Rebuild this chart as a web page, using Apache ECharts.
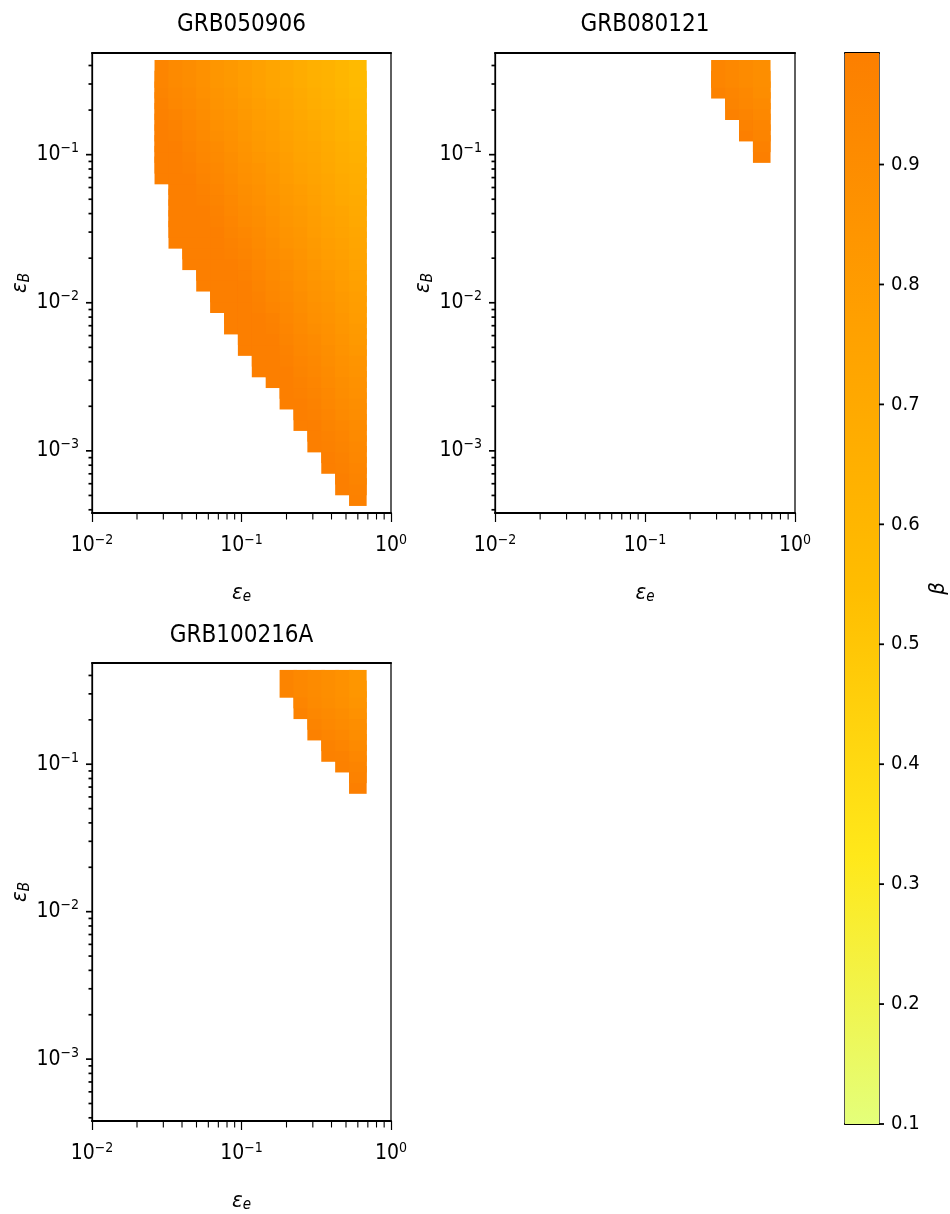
<!DOCTYPE html>
<html><head><meta charset="utf-8">
<script src="https://cdn.jsdelivr.net/npm/echarts@6/dist/echarts.min.js"></script>
<style>html,body{margin:0;padding:0;background:#fff}#c{width:950px;height:1214px}</style>
</head><body><div id="c"></div>
<script>
// ---------------- data ----------------
const epsE = [0.0300, 0.0372, 0.0460, 0.0570, 0.0706, 0.0875, 0.1083, 0.1342, 0.1662, 0.2059, 0.2550, 0.3158, 0.3912, 0.4845, 0.6001];
const epsB = [5.27e-4, 6.22e-4, 7.35e-4, 8.69e-4, 1.026e-3, 1.212e-3, 1.432e-3, 1.692e-3, 1.999e-3, 2.362e-3,
              2.790e-3, 3.296e-3, 3.895e-3, 4.601e-3, 5.436e-3, 6.422e-3, 7.586e-3, 8.962e-3, 1.0588e-2, 1.2509e-2,
              1.4778e-2, 1.7458e-2, 2.0625e-2, 2.4366e-2, 2.8786e-2, 3.4007e-2, 4.0179e-2, 4.7465e-2, 5.6076e-2, 6.6250e-2,
              7.8270e-2, 9.2470e-2, 0.10924, 0.12906, 0.15247, 0.18013, 0.21281, 0.25142, 0.29703, 0.35091];
const titles = ['GRB050906', 'GRB080121', 'GRB100216A'];

// GRB050906: one list per eps_e column (from column firstCol), beta listed upward from row firstRow[c]
const firstCol050906 = 0;
const firstRow050906 = [30, 24, 22, 20, 18, 16, 14, 12, 11, 9, 7, 5, 3, 1, 0];
const beta050906 = [
  [0.99,0.99,0.99,0.99,0.99,0.99,0.98,0.97,0.96,0.95],
  [0.99,0.99,0.99,0.99,0.99,0.99,0.99,0.99,0.99,0.99,0.98,0.97,0.96,0.94,0.93,0.92],
  [0.99,0.99,0.99,0.99,0.99,0.99,0.99,0.99,0.99,0.98,0.97,0.96,0.95,0.94,0.93,0.92,0.91,0.90],
  [0.99,0.99,0.99,0.99,0.99,0.99,0.99,0.99,0.98,0.97,0.96,0.95,0.94,0.93,0.92,0.91,0.90,0.89,0.88,0.87],
  [0.99,0.99,0.99,0.99,0.99,0.99,0.99,0.99,0.98,0.97,0.96,0.95,0.94,0.93,0.92,0.91,0.89,0.88,0.87,0.86,0.85,0.84],
  [0.99,0.99,0.99,0.99,0.99,0.99,0.99,0.98,0.97,0.96,0.95,0.94,0.93,0.92,0.91,0.90,0.89,0.88,0.87,0.86,0.85,0.84,0.83,0.82],
  [0.99,0.99,0.99,0.99,0.99,0.99,0.99,0.98,0.97,0.96,0.95,0.94,0.92,0.91,0.90,0.89,0.88,0.87,0.86,0.85,0.84,0.83,0.82,0.81,0.80,0.79],
  [0.99,0.99,0.99,0.99,0.99,0.99,0.98,0.97,0.96,0.95,0.94,0.93,0.92,0.91,0.90,0.89,0.88,0.87,0.86,0.85,0.83,0.82,0.81,0.80,0.79,0.78,0.77,0.76],
  [0.99,0.99,0.99,0.99,0.99,0.98,0.97,0.95,0.94,0.93,0.92,0.91,0.90,0.89,0.88,0.87,0.86,0.85,0.84,0.83,0.82,0.81,0.80,0.79,0.78,0.77,0.76,0.74,0.73],
  [0.99,0.99,0.99,0.99,0.98,0.97,0.96,0.95,0.94,0.93,0.92,0.91,0.90,0.89,0.88,0.86,0.85,0.84,0.83,0.82,0.81,0.80,0.79,0.78,0.77,0.76,0.75,0.74,0.73,0.72,0.71],
  [0.99,0.99,0.99,0.98,0.97,0.96,0.95,0.94,0.93,0.92,0.91,0.90,0.89,0.88,0.87,0.86,0.85,0.84,0.83,0.82,0.81,0.80,0.79,0.77,0.76,0.75,0.74,0.73,0.72,0.71,0.70,0.69,0.68],
  [0.99,0.99,0.99,0.98,0.97,0.96,0.95,0.94,0.93,0.92,0.91,0.89,0.88,0.87,0.86,0.85,0.84,0.83,0.82,0.81,0.80,0.79,0.78,0.77,0.76,0.75,0.74,0.73,0.72,0.71,0.70,0.68,0.67,0.66,0.65],
  [0.99,0.99,0.98,0.97,0.96,0.95,0.94,0.93,0.92,0.91,0.90,0.89,0.88,0.87,0.86,0.85,0.84,0.83,0.82,0.80,0.79,0.78,0.77,0.76,0.75,0.74,0.73,0.72,0.71,0.70,0.69,0.68,0.67,0.66,0.65,0.64,0.63],
  [0.99,0.99,0.98,0.97,0.96,0.95,0.94,0.92,0.91,0.90,0.89,0.88,0.87,0.86,0.85,0.84,0.83,0.82,0.81,0.80,0.79,0.78,0.77,0.76,0.75,0.74,0.73,0.71,0.70,0.69,0.68,0.67,0.66,0.65,0.64,0.63,0.62,0.61,0.60],
  [0.98,0.97,0.96,0.95,0.94,0.93,0.92,0.91,0.90,0.89,0.88,0.87,0.86,0.85,0.83,0.82,0.81,0.80,0.79,0.78,0.77,0.76,0.75,0.74,0.73,0.72,0.71,0.70,0.69,0.68,0.67,0.66,0.65,0.64,0.62,0.61,0.60,0.59,0.58,0.57]
];

const firstCol080121 = 11;
const firstRow080121 = [38, 36, 34, 32];
const beta080121 = [
  [0.97,0.95],
  [0.98,0.96,0.95,0.93],
  [0.99,0.97,0.96,0.94,0.93,0.91],
  [0.99,0.98,0.96,0.95,0.93,0.92,0.90,0.89]
];

const firstCol100216A = 9;
const firstRow100216A = [39, 37, 35, 33, 32, 30];
const beta100216A = [
  [0.96],
  [0.97,0.95,0.93],
  [0.98,0.96,0.94,0.92,0.91],
  [0.98,0.97,0.95,0.93,0.92,0.90,0.89],
  [0.98,0.97,0.95,0.93,0.91,0.90,0.88,0.87],
  [0.99,0.97,0.96,0.94,0.92,0.90,0.89,0.87,0.85,0.84]
];

// axes / ticks
const X_MIN = 0.01, X_MAX = 1;
const Y_MIN = 3.805e-4, Y_MAX = 0.4858;
const CB_MIN = 0.1, CB_MAX = 0.993;
const xMinorTicks = [0.02,0.03,0.04,0.05,0.06,0.07,0.08,0.09,0.2,0.3,0.4,0.5,0.6,0.7,0.8,0.9];
const yMajorTicks = [0.001, 0.01, 0.1];
const yMinorTicks = [4e-4,5e-4,6e-4,7e-4,8e-4,9e-4,2e-3,3e-3,4e-3,5e-3,6e-3,7e-3,8e-3,9e-3,
                     0.02,0.03,0.04,0.05,0.06,0.07,0.08,0.09,0.2,0.3,0.4];
const cbTicks = [0.1,0.2,0.3,0.4,0.5,0.6,0.7,0.8,0.9];
const wistia = ['#e4ff7a', '#ffe81a', '#ffbd00', '#ffa000', '#fc7f00'];

// ---------------- build ----------------
const FONT = "'DejaVu Sans Condensed', 'Liberation Sans Narrow', 'DejaVu Sans', sans-serif";
const CELL_W = 17.6, CELL_H = 27.8;

function cells(firstCol, firstRow, beta) {
  const out = [];
  beta.forEach((col, c) => col.forEach((b, j) => {
    const yb = epsB[firstRow[c] + j];
    if (yb !== undefined) out.push([epsE[firstCol + c], yb, b]);
  }));
  return out;
}
const panelData = [
  cells(firstCol050906, firstRow050906, beta050906),
  cells(firstCol080121, firstRow080121, beta080121),
  cells(firstCol100216A, firstRow100216A, beta100216A)
];

const tickData = [].concat(
  xMinorTicks.map(v => [v, Y_MIN, 0]),
  yMajorTicks.map(v => [X_MIN, v, 1]),
  yMinorTicks.map(v => [X_MIN, v, 2])
);

function powLabel(v) {
  const e = Math.log10(v), r = Math.round(e);
  if (Math.abs(e - r) > 1e-6) return '';
  return '{b|10}{s|' + (r < 0 ? '\u2212' + (-r) : r) + '}';
}
const supRich = {
  b: {fontFamily: FONT, fontSize: 21, lineHeight: 26, color: '#000'},
  s: {fontFamily: FONT, fontSize: 14, verticalAlign: 'top', color: '#000'}
};
const subRich = {
  e: {fontFamily: FONT, fontStyle: 'italic', fontSize: 22, lineHeight: 24, color: '#000'},
  s: {fontFamily: FONT, fontStyle: 'italic', fontSize: 15, verticalAlign: 'bottom', color: '#000'}
};

const grids = [
  {left: 92, top: 53, width: 299, height: 460},
  {left: 495, top: 53, width: 300, height: 460},
  {left: 92, top: 663, width: 299, height: 460}
].map(g => Object.assign(g, {show: true, borderColor: '#000', borderWidth: 1.25, backgroundColor: 'transparent'}));
grids.push({left: 845, top: 53, width: 34, height: 1071, show: true, borderColor: '#000', borderWidth: 1.25});

const xAxes = [], yAxes = [];
for (let i = 0; i < 3; i++) {
  xAxes.push({
    type: 'log', logBase: 10, gridIndex: i, min: X_MIN, max: X_MAX,
    axisLine: {show: true, lineStyle: {color: '#000', width: 2}},
    axisTick: {show: true, length: 9, lineStyle: {color: '#000', width: 1.2}},
    splitLine: {show: false},
    axisLabel: {margin: 20, formatter: powLabel, rich: supRich},
    name: '{e|ε}{s|e}', nameLocation: 'middle', nameGap: 68, nameTextStyle: {rich: subRich}
  });
  yAxes.push({
    type: 'log', logBase: 10, gridIndex: i, min: Y_MIN, max: Y_MAX,
    axisLine: {show: true, lineStyle: {color: '#000', width: 1.25}},
    axisTick: {show: false},
    splitLine: {show: false},
    axisLabel: {margin: 13, formatter: powLabel, rich: supRich},
    name: '{e|ε}{s|B}', nameLocation: 'middle', nameGap: 51, nameTextStyle: {rich: subRich}
  });
}
// colorbar axes
xAxes.push({type: 'value', gridIndex: 3, min: 0, max: 1, axisLine: {show: true, lineStyle: {color: '#000', width: 2}},
  axisTick: {show: false}, axisLabel: {show: false}, splitLine: {show: false}});
yAxes.push({type: 'value', gridIndex: 3, position: 'right', min: CB_MIN, max: CB_MAX, interval: 0.1,
  axisLine: {show: true, lineStyle: {color: '#000', width: 1.25}},
  axisTick: {show: false}, splitLine: {show: false},
  axisLabel: {margin: 12, fontFamily: FONT, fontSize: 20, color: '#000',
    formatter: v => (v > CB_MAX - 0.05 ? '' : v.toFixed(1)), showMaxLabel: false},
  name: 'β', nameLocation: 'middle', nameGap: 48, nameRotate: 90,
  nameTextStyle: {fontFamily: FONT, fontStyle: 'italic', fontSize: 22, color: '#000'}});
// top spines
for (let i = 0; i < 4; i++) {
  xAxes.push({type: i < 3 ? 'log' : 'value', gridIndex: i, position: 'top',
    min: i < 3 ? X_MIN : 0, max: i < 3 ? X_MAX : 1,
    axisLine: {show: true, lineStyle: {color: '#000', width: 2}},
    axisTick: {show: false}, axisLabel: {show: false}, splitLine: {show: false}});
}

function renderCell(params, api) {
  const p = api.coord([api.value(0), api.value(1)]);
  return {type: 'rect', shape: {x: p[0] - CELL_W / 2, y: p[1] - CELL_H / 2, width: CELL_W, height: CELL_H},
          style: {fill: api.visual('color')}};
}
function renderTick(params, api) {
  const p = api.coord([api.value(0), api.value(1)]);
  const k = api.value(2);
  const shape = k === 0 ? {x1: p[0], y1: p[1], x2: p[0], y2: p[1] + 6.5}
                        : {x1: p[0], y1: p[1], x2: p[0] - (k === 1 ? 6 : 3.5), y2: p[1]};
  return {type: 'line', shape: shape, style: {stroke: '#000', lineWidth: k === 0 ? 1.1 : 1.7}};
}
function renderCbTick(params, api) {
  const p = api.coord([api.value(0), api.value(1)]);
  return {type: 'line', shape: {x1: p[0], y1: p[1], x2: p[0] + 5, y2: p[1]}, style: {stroke: '#000', lineWidth: 1.8}};
}
function renderColorbar(params, api) {
  const a = api.coord([api.value(0), api.value(1)]);
  const b = api.coord([api.value(2), api.value(3)]);
  return {type: 'rect', shape: {x: a[0], y: b[1], width: b[0] - a[0], height: a[1] - b[1]},
    style: {fill: new echarts.graphic.LinearGradient(0, 1, 0, 0,
      wistia.map((c, i) => ({offset: i / (wistia.length - 1), color: c})))}};
}

const series = [];
for (let i = 0; i < 3; i++) {
  series.push({type: 'custom', name: titles[i], xAxisIndex: i, yAxisIndex: i, renderItem: renderCell,
    data: panelData[i], clip: false, z: 2});
}
for (let i = 0; i < 3; i++) {
  series.push({type: 'custom', xAxisIndex: i, yAxisIndex: i, renderItem: renderTick, data: tickData,
    clip: false, silent: true, z: 5});
}
series.push({type: 'custom', xAxisIndex: 3, yAxisIndex: 3, renderItem: renderColorbar,
  data: [[0, CB_MIN, 1, CB_MAX]], clip: false, silent: true, z: 1});
series.push({type: 'custom', xAxisIndex: 3, yAxisIndex: 3, renderItem: renderCbTick,
  data: cbTicks.map(v => [1, v]), clip: false, silent: true, z: 5});

const titleStyle = {fontFamily: FONT, fontSize: 24, fontWeight: 'normal', color: '#000', lineHeight: 28};
const option = {
  animation: false,
  backgroundColor: '#fff',
  title: [
    {text: titles[0], left: 241.5, top: 11, textAlign: 'center', padding: 0, textStyle: titleStyle},
    {text: titles[1], left: 645, top: 11, textAlign: 'center', padding: 0, textStyle: titleStyle},
    {text: titles[2], left: 241.5, top: 622, textAlign: 'center', padding: 0, textStyle: titleStyle}
  ],
  visualMap: {type: 'continuous', show: false, min: CB_MIN, max: CB_MAX, dimension: 2,
    seriesIndex: [0, 1, 2], inRange: {color: wistia}},
  grid: grids,
  xAxis: xAxes,
  yAxis: yAxes,
  series: series
};
const chart = echarts.init(document.getElementById('c'), null, {renderer: 'canvas'});
chart.setOption(option);
</script>
</body></html>
